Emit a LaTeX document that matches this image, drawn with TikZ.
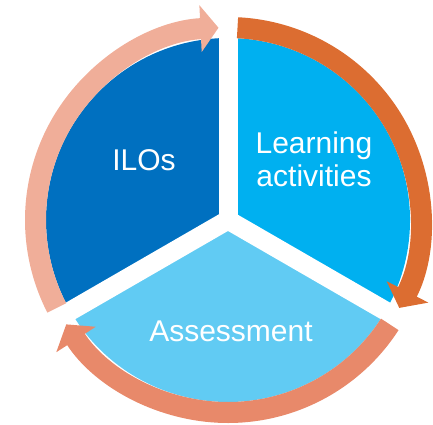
\documentclass[tikz,border=0pt]{standalone}
\usepackage{fontspec}
\setmainfont{Liberation Sans}
\usetikzlibrary{arrows.meta}
\definecolor{iloblue}{HTML}{0070C0}
\definecolor{learnblue}{HTML}{00B0F0}
\definecolor{assessblue}{HTML}{61CBF3}
\definecolor{arroworange}{HTML}{DC6D31}
\definecolor{arrowsalmon}{HTML}{E8896A}
\definecolor{arrowpale}{HTML}{F0AE99}

\begin{document}
\begin{tikzpicture}[x=1pt,y=1pt,
    sector/.style={fill=#1},
    gapline/.style={draw=white, line width=19pt},
    cyclearrow/.style={draw=#1, line width=21pt, -{Triangle[width=46pt,length=18pt]}},
    sectortext/.style={text=white, inner sep=0pt, align=center, font=\fontsize{30}{33}\selectfont}]
    \useasboundingbox (-228,-204) rectangle (205,220);
    % the three sectors
    \fill[sector=iloblue] (0,0) -- (90:182) arc[start angle=90, end angle=210, radius=182] -- cycle;
    \fill[sector=learnblue] (0,0) -- (-30:182) arc[start angle=-30, end angle=90, radius=182] -- cycle;
    \fill[sector=assessblue] (0,0) -- (210:182) arc[start angle=210, end angle=330, radius=182] -- cycle;
    \foreach \a in {90,210,330}
        \draw[gapline] (0,0) -- (\a:183);
    % arrows round the outside
    \draw[cyclearrow=arroworange] (87.17:192.5) arc[start angle=87.17, end angle=-27.17, radius=192.5];
    \draw[cyclearrow=arrowsalmon] (-32.83:192.5) arc[start angle=-32.83, end angle=-147.17, radius=192.5];
    \draw[cyclearrow=arrowpale] (-152.83:192.5) arc[start angle=-152.83, end angle=-267.17, radius=192.5];
    % texts
    \node[sectortext, anchor=base] (ilos) at (-84,50) {ILOs};
    \node[sectortext] (learning) at (86,60.25) {Learning\\activities};
    \node[sectortext, anchor=base] (assessment) at (3,-121) {Assessment};
\end{tikzpicture}
\end{document}
